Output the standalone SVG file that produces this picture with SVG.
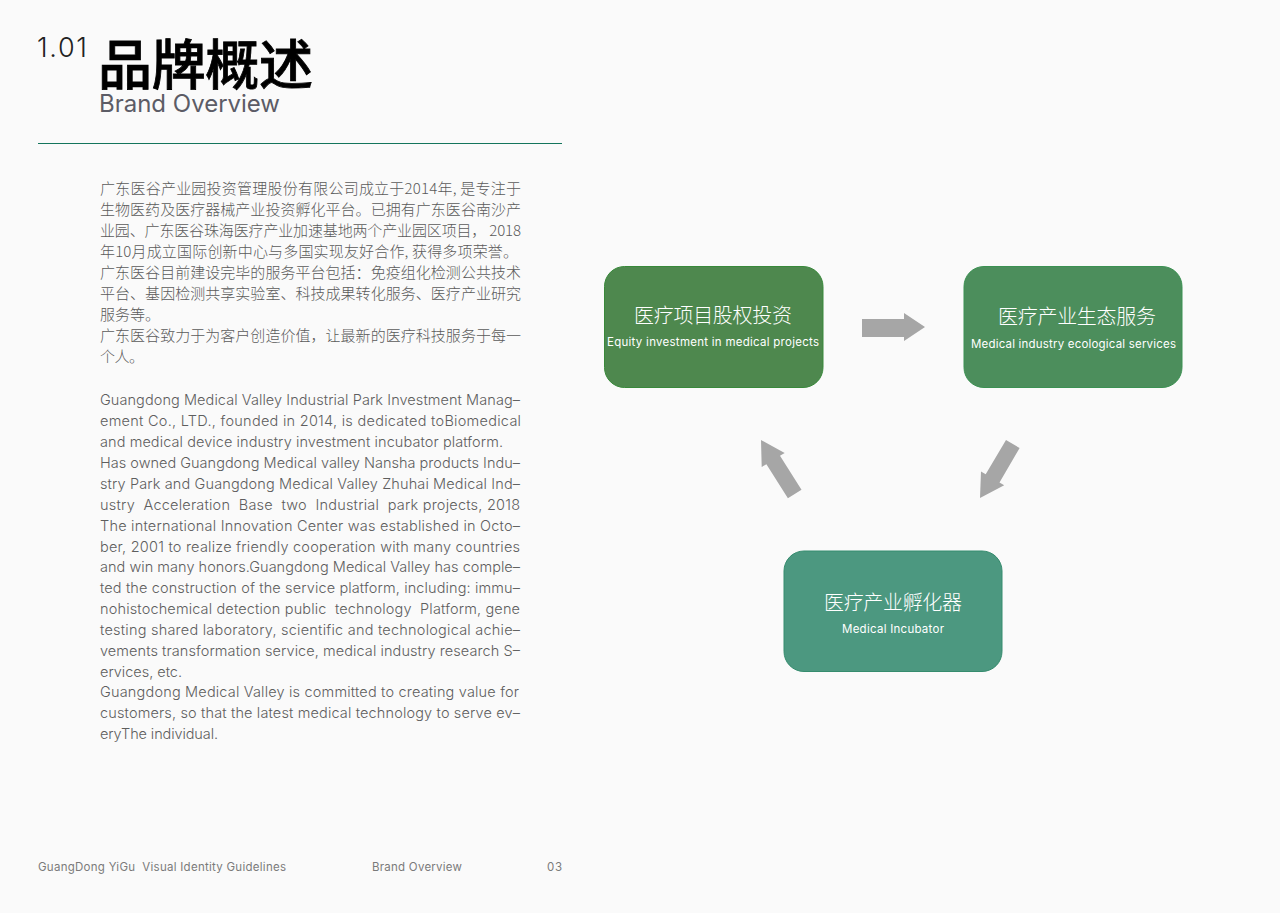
<svg xmlns="http://www.w3.org/2000/svg" width="1280" height="913" viewBox="0 0 1280 913">
<style>
text{font-family:"Inter","Noto Sans CJK SC",sans-serif;white-space:pre}
.cn{font-family:"Noto Sans CJK SC",sans-serif;font-weight:300;font-size:15px;fill:#5a5a5a}
.en{font-weight:300;font-size:14.5px;fill:#5e5e5e}
.ft{font-size:11.5px;fill:#7a7a7a;font-weight:400}
.nt{font-family:"Noto Sans CJK SC",sans-serif;font-weight:300;font-size:20px;fill:#fff}
.ns{font-size:11.5px;fill:#fff;font-weight:400}
.ar{fill:#a6a6a6}
</style>
<rect width="1280" height="913" fill="#fafafa"/>
<g id="header">
<text x="37" y="57" font-size="27" font-weight="300" fill="#222" textLength="50">1.01</text>
<text x="98" y="85" font-size="54" font-weight="500" fill="#000" stroke="#000" stroke-width="0.8" style="font-family:'Noto Sans CJK SC',sans-serif" textLength="215">品牌概述</text>
<text x="99" y="112" font-size="24" fill="#5c5c66" textLength="181">Brand Overview</text>
<rect x="38" y="143" width="524" height="1" fill="#14755c"/>
</g>
<g id="body-cn">
<text class="cn" x="100" y="193.500" textLength="421">广东医谷产业园投资管理股份有限公司成立于2014年, 是专注于</text>
<text class="cn" x="100" y="214.500" textLength="421">生物医药及医疗器械产业投资孵化平台。已拥有广东医谷南沙产</text>
<text class="cn" x="100" y="235.500" textLength="421">业园、广东医谷珠海医疗产业加速基地两个产业园区项目&#xFF0C; 2018</text>
<text class="cn" x="100" y="256.500" textLength="418">年10月成立国际创新中心与多国实现友好合作, 获得多项荣誉。</text>
<text class="cn" x="100" y="277.500" textLength="421">广东医谷目前建设完毕的服务平台包括&#xFF1A;免疫组化检测公共技术</text>
<text class="cn" x="100" y="298.500" textLength="421">平台、基因检测共享实验室、科技成果转化服务、医疗产业研究</text>
<text class="cn" x="100" y="319.500" textLength="60">服务等。</text>
<text class="cn" x="100" y="340.500" textLength="421">广东医谷致力于为客户创造价值&#xFF0C;让最新的医疗科技服务于每一</text>
<text class="cn" x="100" y="361.500" textLength="44">个人。</text>
</g>
<g id="body-en">
<text class="en" x="100" y="405" textLength="420">Guangdong Medical Valley Industrial Park Investment Manag–</text>
<text class="en" x="100" y="426" textLength="421">ement Co., LTD., founded in 2014, is dedicated toBiomedical</text>
<text class="en" x="100" y="447" textLength="403">and medical device industry investment incubator platform.</text>
<text class="en" x="100" y="468" textLength="420">Has owned Guangdong Medical valley Nansha products Indu–</text>
<text class="en" x="100" y="489" textLength="420">stry Park and Guangdong Medical Valley Zhuhai Medical Ind–</text>
<text class="en" x="100" y="509.500" textLength="420">ustry  Acceleration  Base  two  Industrial  park projects, 2018</text>
<text class="en" x="100" y="530.500" textLength="420">The international Innovation Center was established in Octo–</text>
<text class="en" x="100" y="551.500" textLength="420">ber, 2001 to realize friendly cooperation with many countries</text>
<text class="en" x="100" y="572" textLength="420">and win many honors.Guangdong Medical Valley has comple–</text>
<text class="en" x="100" y="593" textLength="420">ted the construction of the service platform, including: immu–</text>
<text class="en" x="100" y="614" textLength="420">nohistochemical detection public  technology  Platform, gene</text>
<text class="en" x="100" y="635" textLength="420">testing shared laboratory, scientific and technological achie–</text>
<text class="en" x="100" y="656" textLength="420">vements transformation service, medical industry research S–</text>
<text class="en" x="100" y="677" textLength="82">ervices, etc.</text>
<text class="en" x="100" y="697" textLength="419">Guangdong Medical Valley is committed to creating value for</text>
<text class="en" x="100" y="718" textLength="420">customers, so that the latest medical technology to serve ev–</text>
<text class="en" x="100" y="739" textLength="118">eryThe individual.</text>
</g>
<g id="node-equity">
<rect x="604.500" y="266.500" width="218.500" height="121" rx="20" fill="#4e884e" stroke="#38893a"/>
<text class="nt" x="634" y="323" textLength="158">医疗项目股权投资</text>
<text class="ns" x="607" y="346" textLength="212">Equity investment in medical projects</text>
</g>
<g id="node-services">
<rect x="964" y="266.500" width="218" height="121" rx="20" fill="#4c8e5c" stroke="#3b9152"/>
<text class="nt" x="998" y="324" textLength="158">医疗产业生态服务</text>
<text class="ns" x="971" y="348" textLength="205">Medical industry ecological services</text>
</g>
<g id="node-incubator">
<rect x="784" y="551" width="218" height="120.500" rx="20" fill="#4c9880" stroke="#358c6e"/>
<text class="nt" x="824" y="610" textLength="138">医疗产业孵化器</text>
<text class="ns" x="842" y="633" textLength="102">Medical Incubator</text>
</g>
<g id="connectors">
<polygon class="ar" points="862,319 904,319 904,313 925,327 904,341 904,337 862,337"/>
<polygon class="ar" points="1006,440 1019.600,448 999.500,482.500 1004.200,485.300 980,498 981,471.500 985.700,474.300"/>
<polygon class="ar" points="801.500,489.800 787.900,498.200 766.400,464.200 761.700,467 761,440 784.700,453 780,455.800"/>
</g>
<g id="footer">
<text class="ft" x="38" y="871" textLength="248">GuangDong YiGu  Visual Identity Guidelines</text>
<text class="ft" x="372" y="871" textLength="90">Brand Overview</text>
<text class="ft" x="547" y="871" textLength="15">03</text>
</g>
</svg>
